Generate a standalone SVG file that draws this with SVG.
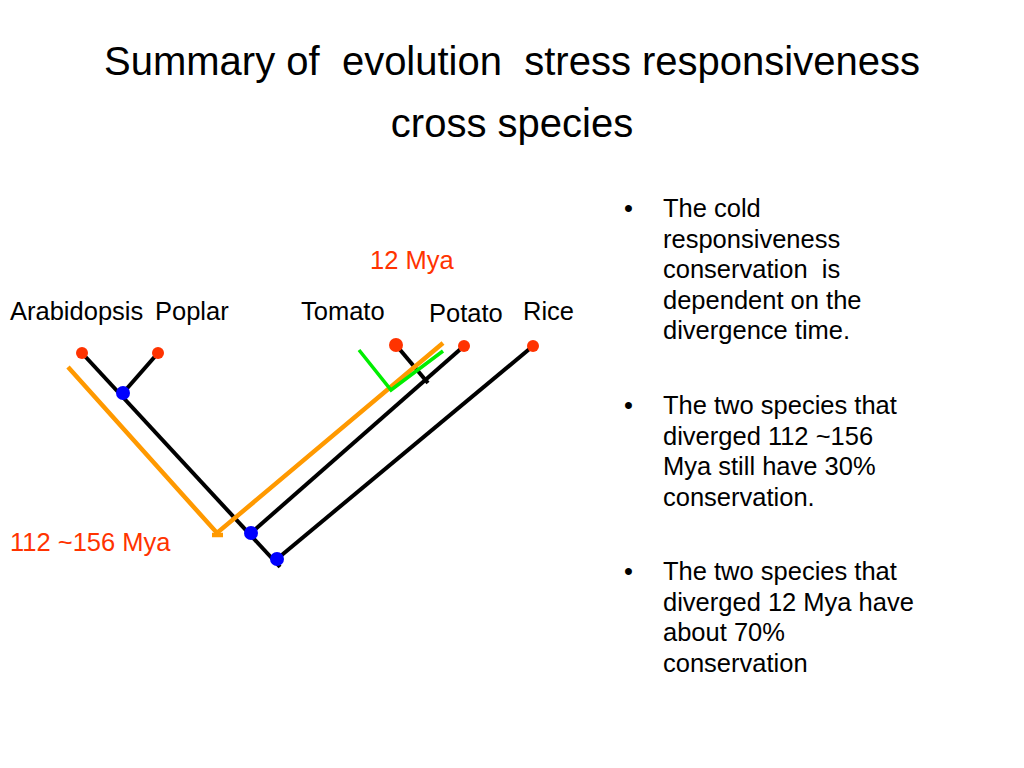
<svg xmlns="http://www.w3.org/2000/svg" width="1024" height="768" viewBox="0 0 1024 768">
<style>
text{font-family:"Liberation Sans",Arial,sans-serif;fill:#000;white-space:pre}
.title{font-size:40px;text-anchor:middle}
.lbl{font-size:25.5px}
.red{fill:#ff3300}
.body{font-size:25.5px}
.br{stroke:#000;stroke-width:4;fill:none;stroke-linecap:butt}
.orange{stroke:#ff9900;stroke-width:4.5;fill:none}
.green{stroke:#00ee00;stroke-width:3.5;fill:none}
.leaf{fill:#ff3300}
.node{fill:#0000ff}
</style>
<rect width="1024" height="768" fill="#fff"/>
<g id="title">
<text class="title" x="512" y="75" xml:space="preserve">Summary of  evolution  stress responsiveness</text>
<text class="title" x="512" y="137">cross species</text>
</g>
<g id="connectors">
<path class="br" d="M82,353 L280,567"/>
<path class="br" d="M158,353 L123,393"/>
<path class="br" d="M464,346 L251,533"/>
<path class="br" d="M396,345 L428,383"/>
<path class="br" d="M533,346 L277,559"/>
<path class="orange" d="M68,367 L217,533 L443,343"/>
<path class="orange" d="M212,535 L223,535" stroke-width="3"/>
<path class="green" d="M359,350 L391,390 L443,351"/>
</g>
<g id="node-arabidopsis"><circle class="leaf" cx="82" cy="353" r="6"/><text class="lbl" x="10" y="320">Arabidopsis</text></g>
<g id="node-poplar"><circle class="leaf" cx="158" cy="353" r="6"/><text class="lbl" x="155" y="320">Poplar</text></g>
<g id="node-tomato"><circle class="leaf" cx="396" cy="345" r="7"/><text class="lbl" x="301" y="320">Tomato</text></g>
<g id="node-potato"><circle class="leaf" cx="464" cy="346" r="6"/><text class="lbl" x="429" y="322">Potato</text></g>
<g id="node-rice"><circle class="leaf" cx="533" cy="346" r="6"/><text class="lbl" x="523" y="320">Rice</text></g>
<g id="node-ap"><circle class="node" cx="123" cy="393" r="7"/></g>
<g id="node-aptp"><circle class="node" cx="251" cy="533" r="7"/></g>
<g id="node-root"><circle class="node" cx="277" cy="559" r="7"/></g>
<g id="label-12mya"><text class="lbl red" x="370" y="269">12 Mya</text></g>
<g id="label-112mya"><text class="lbl red" x="10" y="551">112 ~156 Mya</text></g>
<g id="bullets" class="body">
<text class="body" x="624" y="217">•</text>
<text class="body" x="663" y="217">The cold</text>
<text class="body" x="663" y="247.5">responsiveness</text>
<text class="body" x="663" y="278" xml:space="preserve">conservation  is</text>
<text class="body" x="663" y="308.5">dependent on the</text>
<text class="body" x="663" y="339">divergence time.</text>
<text class="body" x="624" y="414">•</text>
<text class="body" x="663" y="414">The two species that</text>
<text class="body" x="663" y="444.5">diverged 112 ~156</text>
<text class="body" x="663" y="475">Mya still have 30%</text>
<text class="body" x="663" y="505.5">conservation.</text>
<text class="body" x="624" y="580">•</text>
<text class="body" x="663" y="580">The two species that</text>
<text class="body" x="663" y="610.5">diverged 12 Mya have</text>
<text class="body" x="663" y="641">about 70%</text>
<text class="body" x="663" y="671.5">conservation</text>
</g>
</svg>
